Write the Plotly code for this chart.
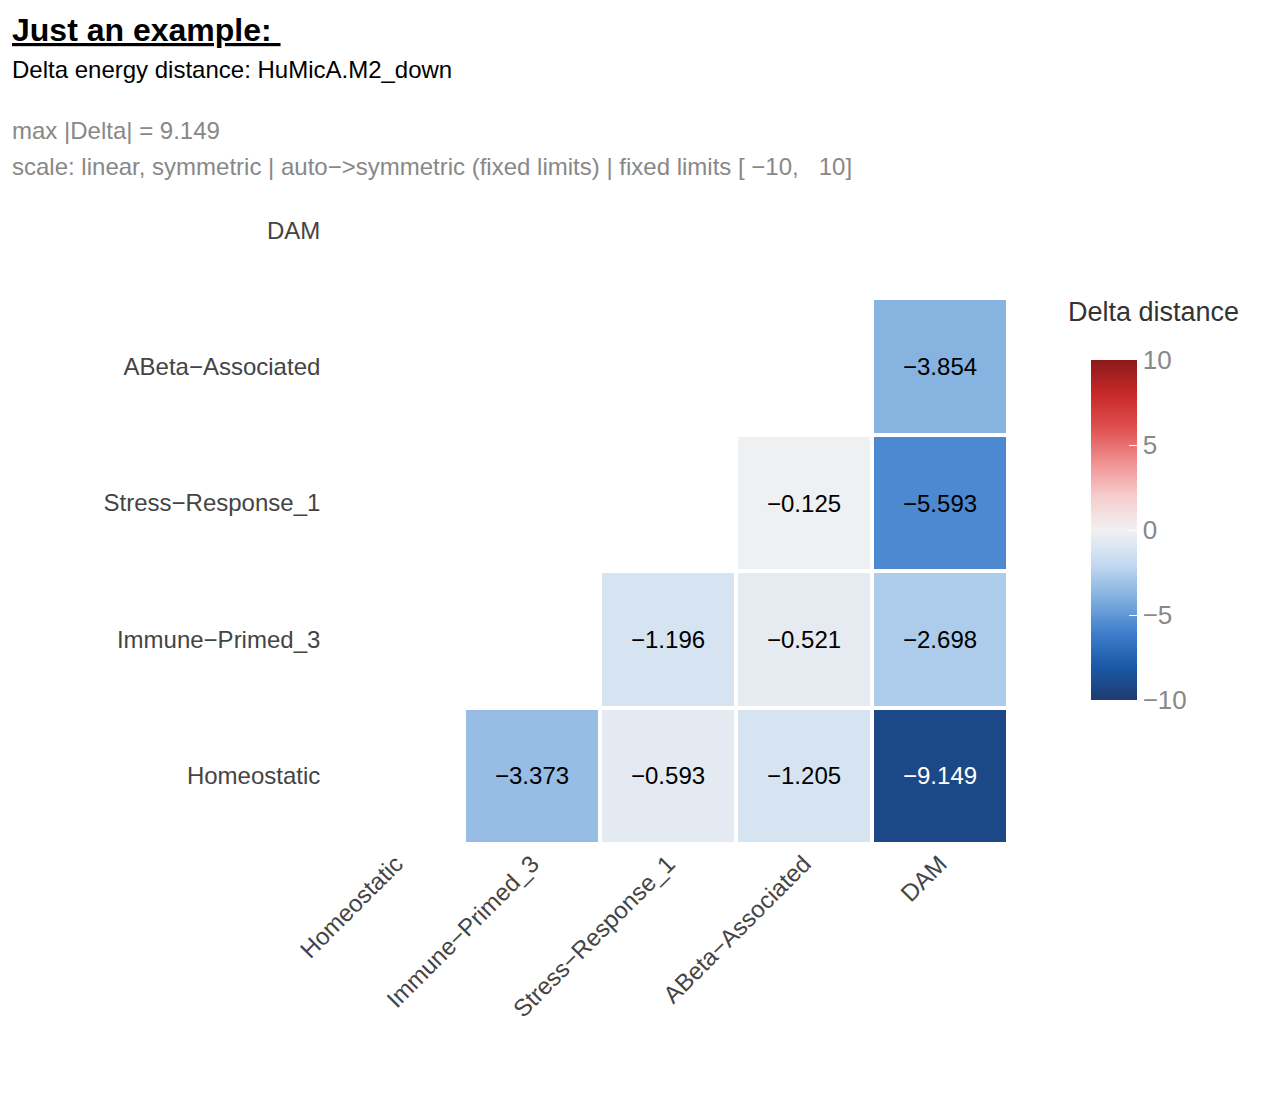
import plotly.graph_objects as go

cats = ["Homeostatic", "Immune−Primed_3", "Stress−Response_1", "ABeta−Associated", "DAM"]
# z[row y][col x]; None = empty
z = [
    [None, -3.373, -0.593, -1.205, -9.149],   # Homeostatic
    [None, None, -1.196, -0.521, -2.698],     # Immune
    [None, None, None, -0.125, -5.593],       # Stress
    [None, None, None, None, -3.854],         # ABeta
    [None, None, None, None, None],           # DAM
]

scale = [[0.0, "#1f3b70"], [0.1, "#1a5aa8"], [0.2, "#3f7fcc"], [0.3, "#82b0e0"], [0.4, "#c4d9f1"],
         [0.5, "#f1f1f1"], [0.6, "#f6cccc"], [0.7, "#f09090"], [0.8, "#e05050"], [0.9, "#c82828"], [1.0, "#8b1a1a"]]

L, R, T, B = 320, 40, 154, 261
PW = 1269 - L - R
PH = 1097 - T - B

fig = go.Figure(go.Heatmap(
    z=z, x=cats, y=cats, zmin=-10, zmax=10, colorscale=scale,
    xgap=4, ygap=4, hoverongaps=False,
    colorbar=dict(title=dict(text="", font=dict(size=26, color="#333")),
                  x=(1083 - L) / PW, xanchor="left", xpad=0, y=(836 - 522) / PH, yanchor="middle",
                  len=360 / PH, thickness=46,
                  tickvals=[-10, -5, 0, 5, 10], ticktext=["−10", "−5", "0", "5", "10"],
                  tickfont=dict(size=26, color="#888"), outlinewidth=0, ticks="inside", ticklen=8, tickcolor="white"),
))
for i, row in enumerate(z):
    for j, v in enumerate(row):
        if v is None:
            continue
        fig.add_annotation(x=cats[j], y=cats[i], text=f"{v:.3f}".replace("-", "−"), showarrow=False,
                           font=dict(size=24, color="white" if abs(v) > 7 else "black"))

fig.update_layout(
    width=1269, height=1097, plot_bgcolor="white", paper_bgcolor="white",
    font=dict(family="Liberation Sans, Arial", color="#333"),
    margin=dict(l=L, r=R, t=T, b=B),
    xaxis=dict(domain=[0, 680 / PW], tickangle=-45, tickfont=dict(size=24, color="#444"),
               showgrid=False, zeroline=False, ticks=""),
    yaxis=dict(tickfont=dict(size=24, color="#444"), showgrid=False, zeroline=False, ticks="", ticksuffix=" "),
)

def note(text, ypx, size, color, xpx=2):
    fig.add_annotation(text=text, xref="paper", yref="paper", x=(xpx - L) / PW, y=(1097 - B - ypx) / PH,
                       xanchor="left", yanchor="middle", showarrow=False, font=dict(size=size, color=color))

note("<b><u>Just an example: </u></b>", 22, 32, "black")
note("Delta energy distance: HuMicA.M2_down", 62, 24, "black")
note("max |Delta| = 9.149", 122, 24, "#888")
note("scale: linear, symmetric | auto−>symmetric (fixed limits) | fixed limits [ −10,   10]", 158, 24, "#888")
note("Delta distance", 304, 27, "#333", xpx=1058)
fig.write_html("out.html")
